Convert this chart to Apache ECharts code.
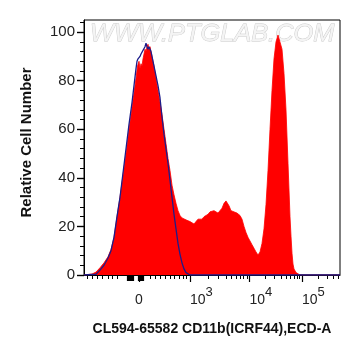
<!DOCTYPE html>
<html><head><meta charset="utf-8">
<script src="https://cdn.jsdelivr.net/npm/echarts@6/dist/echarts.min.js"></script>
<style>html,body{margin:0;padding:0;background:#fff}#c{width:361px;height:356px}</style>
</head><body><div id="c"></div>
<script>
// x is the display channel (0-256) of the biexponential axis, y is relative cell number
const redCurve = [[0,0],[8,0.4],[12,1.2],[16,3],[20,5],[24,7.5],[27,10.5],[30,15.5],[33,24],[36,32],[39,41],[42,50],[45,60],[48,69],[50,75],[52,81],[53.5,86],[55,88],[56,85],[57,87],[58,86],[59,89],[60,91],[61,93],[62,92],[63,94],[64,95],[65,93],[66,94],[67,92],[68,90],[70,86],[72,81],[74,76],[76,71],[78,66],[80,60],[82,54],[84,48],[86,43],[88,37],[90,33],[92,29.5],[94,26.5],[96,24.5],[98,23.5],[100,23],[103,22.5],[106,22],[108,21.5],[110,21],[112,22],[114,23],[116,23.5],[118,23],[120,24],[122,24.5],[124,25],[126,26],[128,25.5],[130,26.5],[132,26],[134,25.5],[136,25.5],[138,27.5],[140,29.5],[142,30.5],[143,31],[145,28.5],[147,26.5],[149,26],[153,25.5],[156,24.5],[158,23],[160,20],[162,17.5],[164,15.5],[166,14],[168,12.5],[170,11],[172,9.5],[174,8.2],[176,9.5],[178,13],[180,19],[182,29],[184,43],[186,60],[188,76],[190,89],[192,96],[194,98.8],[195,99],[196,98.5],[198,93],[200,83],[202,68],[204,46],[205,35],[206,24],[207,16],[208,9],[209,4.5],[210,2.5],[212,1],[214,0.3],[216,0],[256,0]];
const blueCurve = [[0,0],[12,0.3],[16,2],[20,4],[24,7],[27,10],[30,15.5],[33,24],[36,32],[39,42],[42,52],[45,62],[48,71],[50,78],[52,85],[53,88],[54,89],[55,88.5],[56,90],[57,91],[58,91],[59,92.5],[60,93],[61,94],[62,95.5],[63,94],[64,93],[65,94],[66,93.5],[67,92],[68,90],[69,88],[70,86],[72,82],[74,78],[76,73],[78,65],[80,58],[82,52],[84,46],[86,39],[88,32],[90,25],[92,19],[94,13],[96,8.5],[98,5],[100,2.5],[102,1],[104,0.3],[106,0],[256,0]];
const xMajorTicks = [55, 106, 165.5, 218];
const xZeroLabel = [55];
const xPowerTicks = [106, 165.5, 218];
const xPowerLabels = {106: '3', 165.5: '4', 218: '5'};
const xMinorTicks = [3.3,8.7,13.7,18.7,24,28.7,33.3,66,71,76,81,86,90.3,95,99.3,102.7,123.9,134.4,141.8,147.6,152.3,156.3,159.7,162.8,181.3,190.5,197.1,202.2,206.3,209.9,212.9,215.6,233.8,243,249.6,254.7];
const xDenseTicks = [43,44,45,46,47,48,49,54,56,57,58,59];
const yTicks = [0,20,40,60,80,100];
const yMinorTicks = [4,8,12,16,24,28,32,36,44,48,52,56,64,68,72,76,84,88,92,96,104];

const chart = echarts.init(document.getElementById('c'));
const FONT = 'Liberation Sans, Arial, sans-serif';
const baseX = {type:'value', min:0, max:256, position:'bottom', splitLine:{show:false}};
const baseY = {type:'value', min:0, max:105, position:'left', splitLine:{show:false}};
chart.setOption({
  animation:false,
  backgroundColor:'#fff',
  grid:{left:84, top:20, width:256, height:255, show:true, borderColor:'#000', borderWidth:1, backgroundColor:'transparent'},
  graphic:[{type:'text', x:90, y:23, scaleX:1.08, z:0, silent:true,
    style:{text:'WWW.PTGLAB.COM', font:'italic 23.5px '+FONT, fill:'#f4f4f4', stroke:'#c8c8c8', lineWidth:0.8}}],
  xAxis:[
    Object.assign({}, baseX, {
      name:'CL594-65582 CD11b(ICRF44),ECD-A', nameLocation:'middle', nameGap:47,
      nameTextStyle:{fontFamily:FONT, fontSize:14, fontWeight:'bold', color:'#111'},
      axisLine:{show:true, lineStyle:{color:'#000', width:1}},
      axisTick:{show:true, length:7, customValues:xMajorTicks, lineStyle:{color:'#000', width:1.2}},
      axisLabel:{show:true, customValues:xZeroLabel, margin:10, formatter:function(){return '{z|0}';},
        rich:{z:{fontFamily:FONT, fontSize:14, color:'#222', padding:[8,0,0,0]}}}
    }),
    Object.assign({}, baseX, {
      axisLine:{show:false},
      axisTick:{show:true, length:4, customValues:xMinorTicks, lineStyle:{color:'#000', width:1}},
      axisLabel:{show:false}
    }),
    Object.assign({}, baseX, {
      axisLine:{show:false},
      axisTick:{show:true, length:6, customValues:xDenseTicks, lineStyle:{color:'#000', width:1.2}},
      axisLabel:{show:false}
    }),
    Object.assign({}, baseX, {
      axisLine:{show:false},
      axisTick:{show:false},
      axisLabel:{show:true, customValues:xPowerTicks, margin:10, align:'left',
        formatter:function(v){return '{n|10}{s|' + xPowerLabels[v] + '}';},
        rich:{n:{fontFamily:FONT, fontSize:14, color:'#222', padding:[8,0,0,0], verticalAlign:'bottom'},
              s:{fontFamily:FONT, fontSize:13, color:'#222', padding:[0,0,8,0], verticalAlign:'bottom'}}}
    })
  ],
  yAxis:[
    Object.assign({}, baseY, {
      name:'Relative Cell Number', nameLocation:'middle', nameGap:50, nameRotate:90,
      nameTextStyle:{fontFamily:FONT, fontSize:15, fontWeight:'bold', color:'#111', padding:[0,0,0,10]},
      axisLine:{show:true, lineStyle:{color:'#000', width:1}},
      axisTick:{show:true, length:7, customValues:yTicks, lineStyle:{color:'#000', width:1.4}},
      axisLabel:{show:true, customValues:yTicks, margin:9, fontFamily:FONT, fontSize:15, color:'#222'}
    }),
    Object.assign({}, baseY, {
      axisLine:{show:false},
      axisTick:{show:true, length:4, customValues:yMinorTicks, lineStyle:{color:'#000', width:1}},
      axisLabel:{show:false}
    })
  ],
  series:[
    {type:'line', name:'CD11b', data:redCurve, xAxisIndex:0, yAxisIndex:0, showSymbol:false, symbol:'none',
      lineStyle:{color:'#ff0000', width:0.8}, areaStyle:{color:'#ff0000', opacity:1}, itemStyle:{color:'#ff0000'}, z:3},
    {type:'line', name:'Isotype', data:blueCurve, xAxisIndex:0, yAxisIndex:0, showSymbol:false, symbol:'none',
      lineStyle:{color:'#1c1c8a', width:1.3}, itemStyle:{color:'#1c1c8a'}, z:4}
  ]
});
</script></body></html>
